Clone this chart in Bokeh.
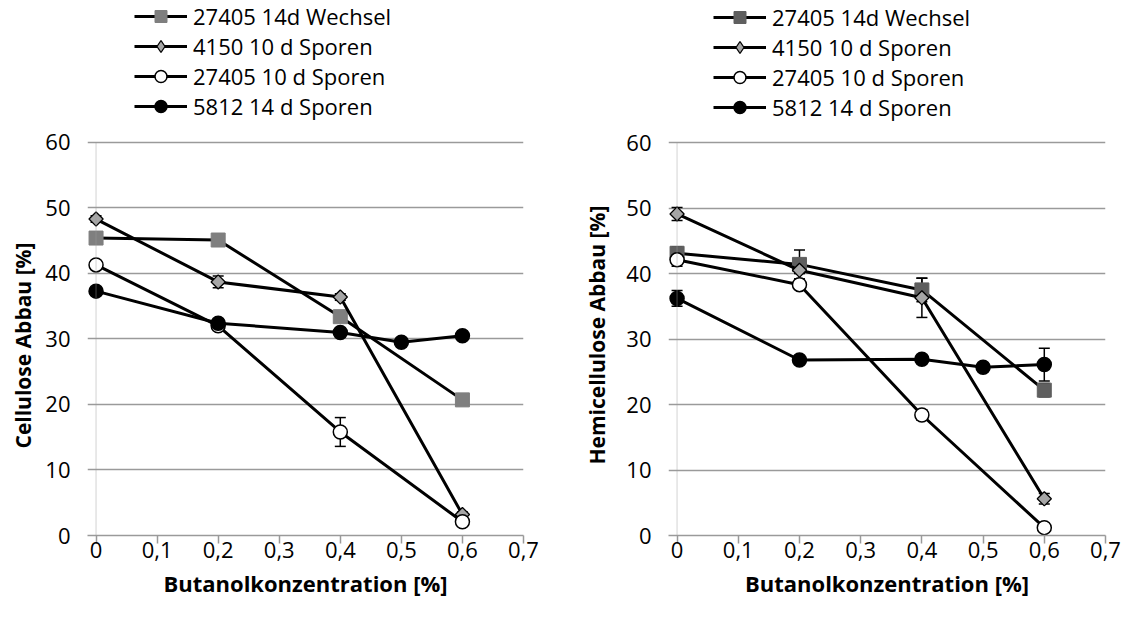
from bokeh.plotting import figure
from bokeh.models import (Range1d, FixedTicker, CustomJSTickFormatter, Legend, LegendItem,
                          Whisker, TeeHead, ColumnDataSource, BoxAnnotation, Title)
from bokeh.layouts import row
from bokeh.embed import file_html
from bokeh.resources import INLINE

# ---------------- data ----------------
conc4 = [0, 0.2, 0.4, 0.6]
conc5 = [0, 0.2, 0.4, 0.5, 0.6]
x_ticks = [0, 0.1, 0.2, 0.3, 0.4, 0.5, 0.6, 0.7]
y_ticks = [0, 10, 20, 30, 40, 50, 60]
series_labels = ["27405 14d Wechsel", "4150 10 d Sporen", "27405 10 d Sporen", "5812 14 d Sporen"]

cel_wechsel = [45.4, 45.1, 33.4, 20.7]
cel_wechsel_err = [0.4, 0.4, 0.6, 0.4]
cel_4150 = [48.3, 38.7, 36.4, 3.2]
cel_4150_err = [0.5, 0.9, 0.5, 0.4]
cel_27405 = [41.3, 32.0, 15.8, 2.1]
cel_27405_err = [0.4, 0.5, 2.2, 0.3]
cel_5812 = [37.3, 32.4, 31.0, 29.5, 30.5]
cel_5812_err = [0.4, 0.5, 0.4, 0.5, 0.4]

hem_wechsel = [43.1, 41.4, 37.5, 22.2]
hem_wechsel_err = [1.0, 2.2, 1.8, 1.0]
hem_4150 = [49.1, 40.5, 36.3, 5.6]
hem_4150_err = [1.0, 0.5, 3.0, 0.8]
hem_27405 = [42.1, 38.3, 18.4, 1.2]
hem_27405_err = [1.0, 0.4, 0.8, 0.3]
hem_5812 = [36.2, 26.8, 26.9, 25.7, 26.1]
hem_5812_err = [1.2, 0.4, 0.4, 0.4, 2.5]

FONT = "Open Sans"
GRID = "#9a9a9a"


def make_fig(width, height, bl, br, bb, ytop, ytitle, title_offset, title_standoff,
             series, square_color, legend_loc):
    p = figure(width=width, height=height, output_backend="svg", toolbar_location=None,
               x_range=Range1d(-0.014, 0.7), y_range=Range1d(0, ytop),
               min_border_left=bl, min_border_right=br, min_border_top=0, min_border_bottom=bb)
    p.outline_line_color = None
    p.background_fill_color = "white"
    p.border_fill_color = "white"
    p.xgrid.visible = False
    p.ygrid.ticker = FixedTicker(ticks=y_ticks)
    p.ygrid.grid_line_color = GRID
    p.ygrid.grid_line_width = 1.5

    xa = p.xaxis[0]
    xa.ticker = FixedTicker(ticks=x_ticks)
    xa.formatter = CustomJSTickFormatter(code="return tick === 0 ? '0' : tick.toFixed(1).replace('.', ',');")
    xa.axis_line_color = GRID
    xa.axis_line_width = 1.5
    xa.major_tick_line_color = GRID
    xa.major_tick_line_width = 1.5
    xa.major_tick_out = 8
    xa.major_tick_in = 0
    xa.minor_tick_line_color = None
    xa.major_label_standoff = -2
    xa.major_label_text_font = FONT
    xa.major_label_text_font_size = "22px"
    xa.major_label_text_color = "black"
    xa.axis_label = "Butanolkonzentration [%]"
    xa.axis_label_text_font = FONT
    xa.axis_label_text_font_style = "bold"
    xa.axis_label_text_font_size = "22px"
    xa.axis_label_text_color = "black"
    xa.axis_label_standoff = 7

    ya = p.yaxis[0]
    ya.ticker = FixedTicker(ticks=y_ticks)
    ya.axis_line_color = None
    ya.major_tick_line_color = None
    ya.minor_tick_line_color = None
    ya.major_tick_out = 0
    ya.major_tick_in = 0
    ya.major_label_standoff = 17
    ya.major_label_text_font = FONT
    ya.major_label_text_font_size = "22px"
    ya.major_label_text_color = "black"

    p.add_layout(Title(text=ytitle, align="left", offset=title_offset, standoff=title_standoff,
                       text_font=FONT, text_font_size="21px", text_font_style="bold",
                       text_color="black"), "left")

    # vertical axis line at x = 0, from 0 to the top tick
    p.add_layout(BoxAnnotation(left=x_ticks[0], right=x_ticks[0], bottom=y_ticks[0], top=y_ticks[-1],
                               fill_alpha=0, line_color=GRID, line_width=1.5))

    styles = [
        dict(marker="square", size=14, fill_color=square_color, line_color=square_color, line_width=1, angle=0),
        dict(marker="square", size=10, fill_color="#a6a6a6", line_color="black", line_width=1.3, angle=0.785398),
        dict(marker="circle", size=14, fill_color="white", line_color="black", line_width=1.5, angle=0),
        dict(marker="circle", size=14, fill_color="black", line_color="black", line_width=1.5, angle=0),
    ]
    items = []
    for k, ((xs, ys, errs), lab, st) in enumerate(zip(series, series_labels, styles)):
        src = ColumnDataSource(data=dict(x=xs, y=ys,
                                         upper=[v + e for v, e in zip(ys, errs)],
                                         lower=[v - e for v, e in zip(ys, errs)]))
        ln = p.line("x", "y", source=src, line_color="black", line_width=3)
        w = Whisker(base="x", upper="upper", lower="lower", source=src, line_color="black", line_width=1.5,
                    upper_head=TeeHead(size=11, line_color="black", line_width=1.5),
                    lower_head=TeeHead(size=11, line_color="black", line_width=1.5))
        p.add_layout(w)
        sc = p.scatter("x", "y", source=src, **st)
        if k == 1:
            # legend symbol for the rotated-square marker (legend markers are never rotated)
            sym = p.scatter("x", "y", source=src, marker="diamond", size=14, fill_color="#a6a6a6",
                            line_color="black", line_width=1.3, visible=False)
            items.append(LegendItem(label=lab, renderers=[ln, sym]))
        else:
            items.append(LegendItem(label=lab, renderers=[ln, sc]))

    legend = Legend(items=items, location=legend_loc, orientation="vertical",
                    border_line_color=None, background_fill_alpha=0, padding=0, margin=0, spacing=0,
                    glyph_width=53, glyph_height=30, label_height=30, label_standoff=6,
                    label_text_font=FONT, label_text_font_size="22px", label_text_color="black")
    p.add_layout(legend)
    return p


left = make_fig(564, 628, 87, 41, 93, 81.66, "Cellulose  Abbau [%]", 87, 12,
                [(conc4, cel_wechsel, cel_wechsel_err), (conc4, cel_4150, cel_4150_err),
                 (conc4, cel_27405, cel_27405_err), (conc5, cel_5812, cel_5812_err)],
                "#7f7f7f", (47, 414))
right = make_fig(564, 628, 104, 23, 89, 81.7, "Hemicellulose Abbau [%]", 71, 25,
                 [(conc4, hem_wechsel, hem_wechsel_err), (conc4, hem_4150, hem_4150_err),
                  (conc4, hem_27405, hem_27405_err), (conc5, hem_5812, hem_5812_err)],
                 "#5f5f5f", (45, 413))

layout = row(left, right)
open("out.html", "w").write(file_html(layout, INLINE))
